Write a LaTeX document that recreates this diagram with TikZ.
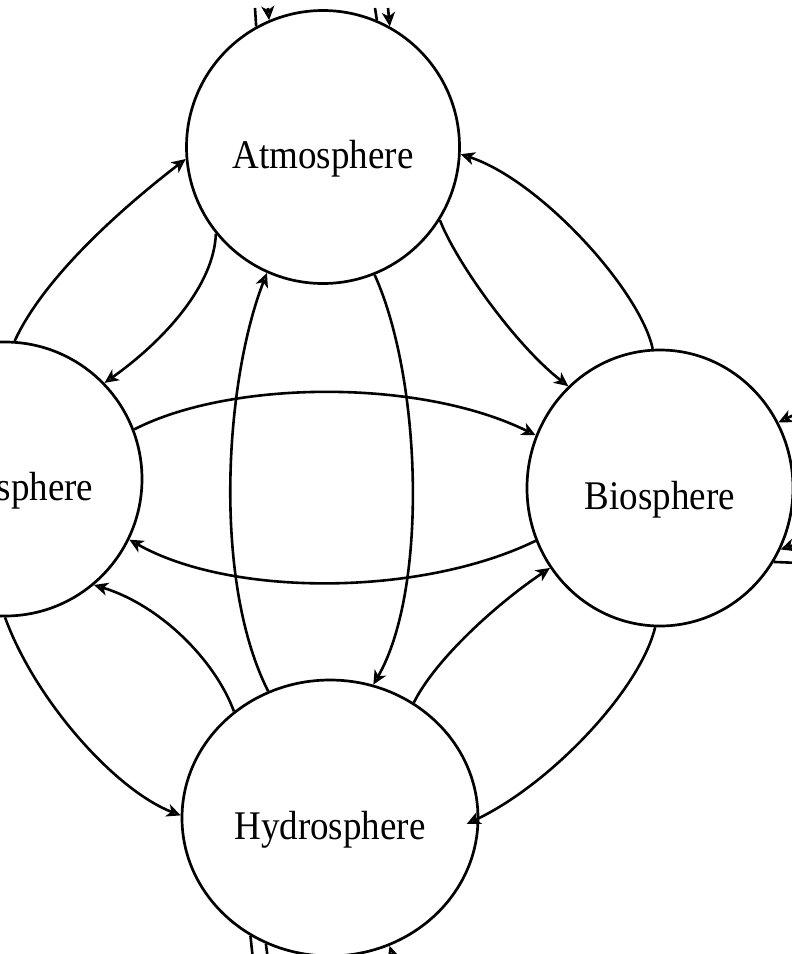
\documentclass[tikz,border=0pt]{standalone}
\usepackage{fontspec}
\setmainfont{Liberation Serif}
\usetikzlibrary{arrows.meta,shapes.geometric}
\newcommand{\spherelabel}[1]{\scalebox{1}[1.1]{#1}}
\tikzset{
  sphere/.style={ellipse, draw, line width=1.35pt, inner sep=0pt,
    text height=21pt, text depth=0pt,
    font=\fontsize{18.5}{20}\selectfont},
  conn/.style={line width=1.3pt, -{Stealth[length=7pt,width=6.5pt,open,inset=2pt]}},
  stub/.style={line width=1.3pt}
}
\begin{document}
\begin{tikzpicture}[x=0.5pt,y=-0.5pt]
\useasboundingbox (0,0) rectangle (792,954);
\clip (0,0) rectangle (792,954);

\node[sphere, minimum width=136.5pt, minimum height=136.5pt] (atm) at (323,147) {\spherelabel{Atmosphere}};
\node[sphere, minimum width=137pt, minimum height=137pt] (lit) at (5,479) {\spherelabel{Lithosphere}};
\node[sphere, minimum width=133pt, minimum height=138pt] (bio) at (660,488) {\spherelabel{Biosphere}};
\node[sphere, minimum width=148pt, minimum height=138pt] (hyd) at (330,818) {\spherelabel{Hydrosphere}};

% connectors
\draw[conn] (lit.86.6) .. controls (45,275) and (126,205) .. (atm.185.4);
\draw[conn] (atm.219) .. controls (214,285) and (165,340) .. (lit.44.7);
\draw[conn] (atm.328.7) .. controls (455,260) and (515,345) .. (bio.132.9);
\draw[conn] (bio.93) .. controls (640,290) and (540,180) .. (atm.357.5);
\draw[conn] (lit.21.1) .. controls (230,380) and (420,378) .. (bio.157.2);
\draw[conn] (bio.203.4) .. controls (420,597) and (230,597) .. (lit.334.5);
\draw[conn] (hyd.116.3) .. controls (212,580) and (225,380) .. (atm.246.9);
\draw[conn] (atm.292.1) .. controls (422,380) and (428,590) .. (hyd.72);
\draw[conn] (hyd.132.9) .. controls (215,660) and (160,605) .. (lit.310.2);
\draw[conn] (lit.270.8) .. controls (35,700) and (115,790) .. (hyd.179);
\draw[conn] (hyd.54) .. controls (435,660) and (495,605) .. (bio.216.6);
\draw[conn, shorten >=-7pt] (bio.268) .. controls (640,690) and (550,785) .. (hyd.0);

% cut-off stubs at the edges
\coordinate (t1) at (255,8);
\coordinate (t2) at (268,8);
\coordinate (t3) at (375,8);
\coordinate (t4) at (388,8);
\draw[stub] (atm.119.9) -- (t1);
\draw[conn] (t2) -- (atm.113.8);
\draw[stub] (atm.67.6) -- (t3);
\draw[conn] (t4) -- (atm.61.6);

\coordinate (r1) at (800,412);
\coordinate (r2) at (800,543);
\coordinate (r3) at (800,563);
\draw[conn] (r1) -- (bio.29.4);
\draw[conn] (r2) -- (bio.-27.5);
\draw[stub] (bio.-33.8) -- (r3);

\coordinate (b1) at (253,960);
\coordinate (b2) at (268,960);
\coordinate (b3) at (394,960);
\draw[stub] (hyd.236.9) -- (b1);
\draw[stub] (hyd.243.7) -- (b2);
\draw[conn] (b3) -- (hyd.295.4);
\end{tikzpicture}
\end{document}
